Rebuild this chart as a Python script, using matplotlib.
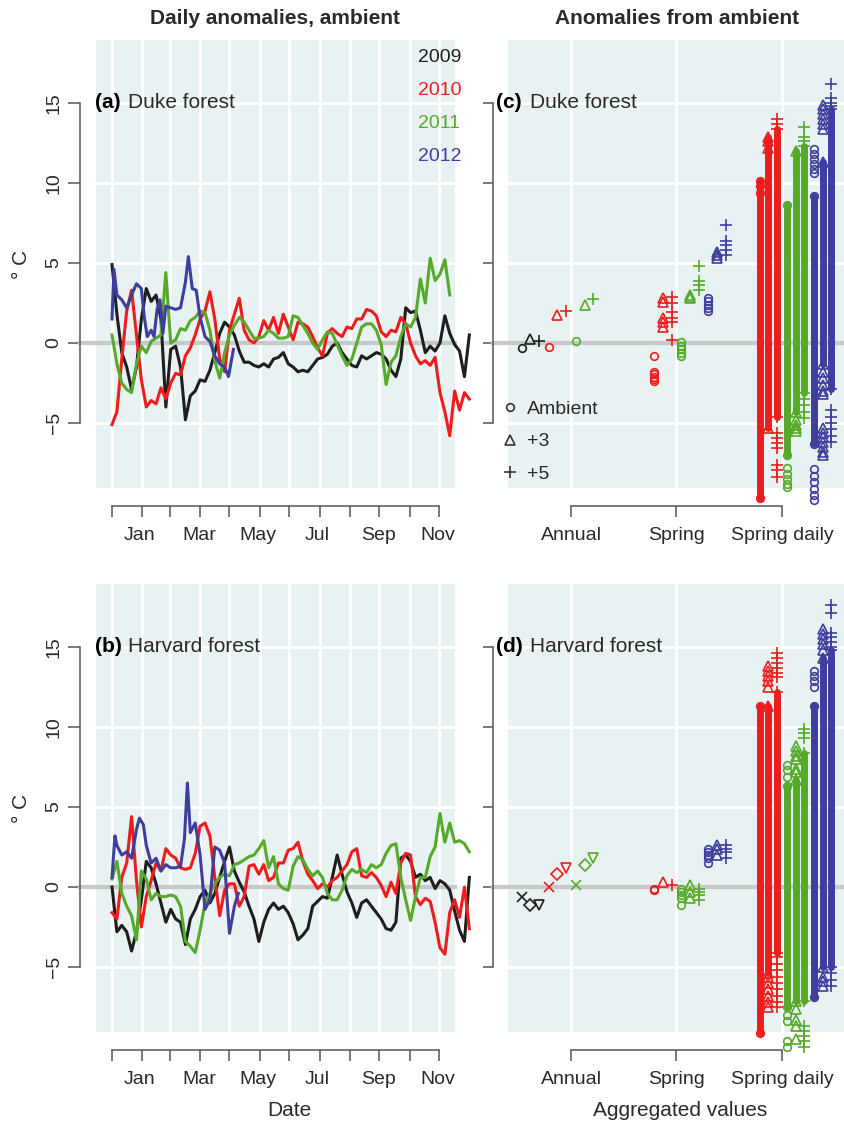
import matplotlib
matplotlib.use('Agg')
import matplotlib.pyplot as plt
from matplotlib.lines import Line2D
from matplotlib.patches import Rectangle

plt.rcParams['font.family'] = ['Liberation Sans', 'DejaVu Sans']

W, H = 845, 1123

# years and colours
years = ['2009', '2010', '2011', '2012']
year_cols = ['#1e1e1e', '#ee1d1d', '#55aa2a', '#3e3e9e']
bg_col = '#e8f2f2'
axis_col = '#555555'
text_col = '#2a2a2a'

# month ticks (day of year of each month start) and labels
month_starts = [0, 31, 59, 90, 120, 151, 181, 212, 243, 273, 304, 334]
month_labels = ['Jan', 'Mar', 'May', 'Jul', 'Sep', 'Nov']
month_label_days = [28, 89, 149, 210, 272, 333]

days_full = list(range(0, 366, 5))
days_2011_duke = list(range(0, 346, 5))

# ---- (a) Duke forest, daily anomalies (read every ~5 days)
duke_2009 = [4.9, 1.8, -0.6, -1.5, -2.9, -1.5, 1.5, 3.4, 2.6, 3.0, 1.5, -4.0, -0.4, -0.2, -1.5,
             -4.8, -3.3, -3.0, -2.3, -2.4, -1.7, -0.6, 0.6, 1.3, 1.0, 0.5, -0.5, -1.2, -1.2, -1.4,
             -1.5, -1.3, -1.5, -1.0, -0.9, -0.6, -1.3, -1.5, -1.8, -1.7, -1.8, -1.4, -1.0, -0.9, -0.7,
             -0.2, 0.0, -0.6, -1.0, -1.4, -1.5, -0.8, -1.0, -0.8, -0.6, -0.7, -1.0, -1.7, -2.1, -1.0,
             2.2, 1.9, 2.0, 0.8, -0.6, -0.2, -0.5, 0.0, 1.7, 0.6, -0.1, -0.5, -2.1, 0.5]
duke_2010 = [-5.1, -4.3, -1.0, 2.0, 3.3, 0.5, -2.3, -4.0, -3.6, -3.8, -2.8, -3.5, -2.5, -1.9, -2.0,
             -0.8, -0.3, 0.5, 1.5, 2.0, 3.2, 1.5, -1.0, -1.8, 0.8, 1.8, 2.8, 0.8, 0.2, 0.0,
             0.4, 1.4, 0.8, 1.6, 0.6, 1.8, 1.0, 0.2, 1.3, 1.2, 1.0, 0.4, -0.3, -0.8, 0.6,
             0.9, 0.6, 0.4, 1.0, 0.9, 1.5, 1.5, 2.1, 2.0, 1.7, 0.7, 0.4, 0.8, 0.7, 1.6,
             1.2, 0.0, -0.8, -1.3, -1.1, -1.4, -0.9, -3.1, -4.3, -5.8, -3.0, -4.2, -3.1, -3.5]
duke_2011 = [0.5, -1.3, -2.5, -2.9, -3.1, -1.3, -0.2, -0.6, 0.1, 0.3, 0.5, 4.4, 0.0, 0.2, 0.9,
             0.8, 1.4, 1.6, 2.0, 1.9, 0.8, -1.1, -2.2, -0.6, 0.5, 1.1, 1.6, 1.3, 0.8, 0.3,
             0.3, 0.4, 0.8, 0.6, 0.3, 0.3, 0.4, 1.7, 1.6, 1.1, 0.6, 0.0, -0.4, 0.2, 0.7,
             0.6, -0.1, -0.8, -1.4, -1.0, 0.0, 1.0, 1.2, 1.2, 0.8, -0.1, -2.6, -1.2, -0.8, 0.4,
             1.2, 1.0, 1.6, 4.0, 2.5, 5.3, 3.9, 4.3, 5.2, 3.0]
duke_2012_days = [0, 2, 5, 10, 15, 20, 25, 30, 33, 36, 40, 43, 46, 49, 52, 55, 60, 65, 70, 75,
                  78, 82, 86, 90, 95, 100, 105, 110, 115, 119, 124]
duke_2012 = [1.5, 4.6, 3.0, 2.7, 2.2, 3.0, 3.7, 3.4, 1.6, 0.4, 0.8, 0.4, 2.1, 2.7, 0.6, 2.3,
             2.2, 2.1, 2.2, 3.8, 5.4, 3.4, 3.3, 1.6, 0.4, 0.1, -0.8, -1.3, -1.5, -2.1, -0.4]

# ---- (b) Harvard forest, daily anomalies
harv_2009 = [0.0, -2.8, -2.4, -2.8, -4.0, -2.8, -0.8, 1.6, 1.2, 0.2, -1.0, -2.2, -1.4, -2.0, -2.2,
             -3.6, -2.0, -1.4, -0.6, -0.2, -1.0, -0.4, 0.6, 1.6, 2.5, 1.0, 0.3, -0.3, -1.2, -2.0,
             -3.4, -2.2, -1.4, -1.0, -1.4, -1.2, -1.6, -2.3, -3.3, -3.0, -2.6, -1.2, -0.9, -0.6, -0.7,
             0.6, 2.0, 0.8, -0.3, -1.0, -1.9, -1.0, -0.8, -1.2, -1.6, -2.0, -2.6, -2.7, -2.2, 1.8,
             2.0, 1.6, 0.6, 0.8, 0.4, 0.6, -0.1, 0.4, 0.2, -0.2, -1.5, -2.7, -3.4, 0.6]
harv_2010 = [-1.6, -2.0, 0.6, 1.5, 4.4, 0.4, -2.5, -0.6, 0.4, 1.5, 1.0, 2.4, 2.0, 1.8, 1.2,
             1.1, 1.2, 2.1, 3.8, 4.0, 3.2, 0.6, -1.8, -0.2, 0.2, 0.2, -1.2, -0.6, 1.3, 1.4,
             0.8, 1.4, 0.4, 0.6, 1.5, 1.5, 2.3, 2.4, 2.8, 1.6, 0.8, 0.4, -0.1, 0.2, 0.0,
             0.4, 0.6, 1.0, 1.4, 2.2, 2.4, 0.7, 0.6, 0.9, 0.6, 0.1, -0.6, 0.3, -0.4, 1.5,
             2.1, 2.0, -0.6, -1.1, -0.7, -0.9, -2.2, -3.8, -4.2, -1.6, -0.8, -1.9, 0.0, -2.6]
harv_2011 = [0.5, 1.6, -0.4, -1.2, -1.8, -3.3, 1.0, 0.5, -0.8, -0.4, -0.6, -0.6, -0.5, -0.6, -1.2,
             -3.4, -3.7, -4.1, -2.7, -1.0, -0.4, 0.2, 0.6, 0.8, 0.7, 1.4, 1.5, 1.7, 1.9, 2.0,
             2.4, 2.9, 1.2, 1.9, 0.2, -0.1, -0.2, 1.3, 1.9, 1.7, 1.1, 0.7, 1.0, 0.6, -0.4,
             -0.8, -0.8, -0.2, 0.7, 1.1, 0.9, 1.1, 0.9, 1.4, 1.2, 1.4, 2.1, 2.6, 2.7, 0.6,
             -0.8, -2.1, -0.6, 0.6, 0.6, 1.9, 2.5, 4.6, 2.8, 4.0, 2.8, 2.9, 2.7, 2.2]
harv_2012_days = [0, 3, 5, 10, 15, 20, 25, 28, 32, 35, 40, 45, 50, 55, 60, 65, 70, 74, 77, 80,
                  85, 90, 95, 100, 105, 110, 115, 120, 125, 129]
harv_2012 = [0.6, 3.2, 2.6, 2.0, 2.2, 1.8, 3.6, 4.3, 3.9, 2.6, 1.5, 1.8, 1.0, 1.4, 1.2,
             1.2, 1.3, 3.0, 6.5, 3.4, 4.0, 2.0, -1.4, -0.8, 2.5, 2.3, 1.5, -2.9, -1.2, -0.4]

# ---- aggregated values; rows = treatment (ambient, +3, +5)
duke_annual = {'2009': [[-0.3], [0.25], [0.15]],
               '2010': [[-0.25], [1.75], [2.0]],
               '2011': [[0.1], [2.4], [2.75]]}
duke_spring = {'2010': [[-0.8, -1.8, -1.95, -2.1, -2.25, -2.4], [2.8, 2.55, 1.55, 1.3, 1.0],
                        [2.9, 2.5, 1.95, 1.55, 1.3, 0.2]],
               '2011': [[0.05, -0.2, -0.4, -0.6, -0.8], [3.0, 2.9, 2.8], [4.8, 3.9, 3.6, 3.3]],
               '2012': [[2.8, 2.6, 2.4, 2.2, 2.0], [5.7, 5.5, 5.3], [7.4, 6.4, 6.1, 5.8, 5.5]]}
duke_daily_lo = {'2010': [-9.7, -5.3, -4.6], '2011': [-7.0, -4.3, -3.1], '2012': [-6.3, -1.3, -2.9]}
duke_daily_hi = {'2010': [10.1, 12.9, 13.4], '2011': [8.6, 12.0, 12.3], '2012': [9.2, 11.3, 14.6]}
duke_daily_extra = {
    '2010': [[9.8, 9.4], [12.6, 12.2],
             [14.0, 13.7, -5.65, -5.96, -6.27, -6.58, -7.63, -7.94, -8.35]],
    '2011': [[-7.8, -8.2, -8.5, -8.8, -9.0], [-4.8, -5.1, -5.3, -5.5],
             [13.5, 12.9, 12.6, -3.5, -3.9, -4.3, -4.7]],
    '2012': [[12.1, 11.8, 11.5, 11.2, 10.9, 10.6, -7.9, -8.3, -8.7, -9.1, -9.5, -9.8],
             [14.9, 14.6, 14.3, 14.0, 13.7, 13.4, -1.8, -2.2, -2.6, -3.0, -3.2,
              -5.3, -5.6, -5.9, -6.2, -6.5, -6.8, -7.0],
             [16.2, 15.3, 15.0, 14.8, -4.2, -4.6, -5.0, -5.4, -5.8, -6.2]]}

harv_annual = {'2009': [[-0.6], [-1.1], [-1.1]],
               '2010': [[0.0], [0.8], [1.2]],
               '2011': [[0.15], [1.35], [1.8]]}
harv_spring = {'2010': [[-0.1, -0.2], [0.3], [0.1]],
               '2011': [[-0.1, -0.3, -0.5, -0.7, -1.1], [0.1, -0.3, -0.7], [-0.1, -0.3, -0.5, -0.8]],
               '2012': [[2.4, 2.2, 2.0, 1.8, 1.5], [2.6, 2.4, 2.0], [2.6, 2.4, 2.2, 1.8]]}
harv_daily_lo = {'2010': [-9.1, -5.4, -4.1], '2011': [-7.5, -7.1, -7.1], '2012': [-6.9, -5.0, -5.0]}
harv_daily_hi = {'2010': [11.3, 11.3, 12.2], '2011': [6.3, 6.7, 8.4], '2012': [11.3, 14.3, 14.8]}
harv_daily_extra = {
    '2010': [[], [13.8, 13.5, 13.2, 12.9, 12.5, -5.6, -6.0, -6.4, -6.8, -7.2, -7.5],
             [14.6, 14.3, 14.0, 13.7, 13.4, 13.1, -4.4, -4.8, -5.2, -5.6, -6.0, -6.4, -6.8, -7.2, -7.5]],
    '2011': [[7.6, 7.3, 6.9, -8.0, -8.4, -9.6, -10.0], [8.8, 8.5, 8.2, 8.0, 7.4, 7.2, -7.6, -8.3, -8.7, -9.5],
             [9.9, 9.6, 9.3, -8.7, -9.0, -9.3, -9.6, -10.0]],
    '2012': [[13.5, 13.2, 12.9, 12.5], [16.1, 15.8, 15.5, 15.2, 14.8, -5.6, -5.9, -6.2],
             [17.6, 17.1, 15.9, 15.6, 15.3, 15.0, -5.4, -5.8, -6.2]]}

categories = ['Annual', 'Spring', 'Spring daily']
treat_labels = ['Ambient', '+3', '+5']

YLIM = (-9.0625, 18.9375)
DAY_PX = 0.979          # pixels per day in the line panels
YEAR_OFF, TRT_OFF = 0.256, 0.085


def px_axes(fig, x0, y0, x1, y1):
    return fig.add_axes([x0 / W, 1 - y1 / H, (x1 - x0) / W, (y1 - y0) / H])


def style_left(ax, outward, ticklen, labels):
    ax.spines['left'].set_position(('outward', outward))
    ax.spines['left'].set_bounds(-5, 15)
    ax.spines['left'].set_color(axis_col)
    ax.spines['left'].set_linewidth(1.1)
    for s in ['top', 'right']:
        ax.spines[s].set_visible(False)
    ax.set_yticks([-5, 0, 5, 10, 15])
    ax.tick_params(axis='y', direction='out', length=ticklen, width=1.1, color=axis_col,
                   labelsize=14, labelcolor=text_col, labelrotation=90, pad=4,
                   labelleft=labels)
    if labels:
        for t in ax.get_yticklabels():
            t.set_va('center')
    ax.set_ylim(*YLIM)


def line_panel(ax, series, title_lbl, site, legend=False):
    x0 = -16 / DAY_PX
    x1 = (475 - 112) / DAY_PX
    bg_r = (455 - 112) / DAY_PX
    ax.set_xlim(x0, x1)
    ax.set_facecolor('none')
    ax.add_patch(Rectangle((x0, YLIM[0]), bg_r - x0, YLIM[1] - YLIM[0], color=bg_col,
                           zorder=0, lw=0))
    frac = (bg_r - x0) / (x1 - x0)
    for m in month_starts:
        ax.axvline(m, color='white', lw=2.2, zorder=1)
    for y in [-5, 5, 10, 15]:
        ax.axhline(y, xmin=0, xmax=frac, color='white', lw=2.2, zorder=1)
    ax.axhline(0, xmin=-16 / 379, xmax=frac, color='#c8c8c8', lw=3, zorder=2, clip_on=False)

    handles = []
    for (d, v), col in zip(series, year_cols):
        h, = ax.plot(d, v, color=col, lw=2.2, zorder=3, solid_joinstyle='round')
        handles.append(h)

    style_left(ax, 11.5, 8.5, True)
    ax.spines['bottom'].set_position(('outward', 13))
    ax.spines['bottom'].set_bounds(month_starts[0], month_starts[-1])
    ax.spines['bottom'].set_color(axis_col)
    ax.spines['bottom'].set_linewidth(1.1)
    ax.set_xticks(month_starts)
    ax.set_xticklabels([])
    ax.set_xticks(month_label_days, minor=True)
    ax.set_xticklabels(month_labels, minor=True)
    ax.tick_params(axis='x', which='major', direction='out', length=8, width=1.1, color=axis_col)
    ax.tick_params(axis='x', which='minor', length=0, pad=15, labelsize=14, labelcolor=text_col)

    ax.text(-17 / DAY_PX, 15, title_lbl, fontsize=15, fontweight='bold', va='center',
            ha='left', color='black', zorder=5)
    ax.text(16 / DAY_PX, 15, site, fontsize=15, va='center', ha='left', color=text_col, zorder=5)

    if legend:
        leg = ax.legend(handles, years, loc='upper right',
                        bbox_to_anchor=((462 - 96) / 379, (488 - 48) / 448),
                        frameon=False, handlelength=0, handletextpad=0, borderpad=0,
                        borderaxespad=0, labelspacing=0.8, fontsize=14, labelcolor='linecolor')
        for h in leg.legend_handles:
            h.set_visible(False)


def xpos(cat, yi, ti):
    return cat + (yi - 1.5) * YEAR_OFF + (ti - 1) * TRT_OFF


def agg_panel(ax, annual, spring, d_lo, d_hi, d_extra, title_lbl, site, ann_markers, legend=False):
    x0 = 1 + (508 - 571) / 105.5
    x1 = 1 + (845 - 571) / 105.5
    ax.set_xlim(x0, x1)
    ax.set_facecolor(bg_col)
    for c in [1, 2, 3]:
        ax.axvline(c, color='white', lw=2.2, zorder=1)
    for y in [-5, 5, 10, 15]:
        ax.axhline(y, color='white', lw=2.2, zorder=1)
    ax.axhline(0, xmin=-15 / 337, xmax=1, color='#c8c8c8', lw=3, zorder=2, clip_on=False)

    markers = ['o', '^', '+']
    sizes = {'o': 5.5, '^': 7, '+': 8, 'x': 7, 'D': 6, 'v': 7}

    def pts(x, vals, m, col):
        ax.plot([x] * len(vals), vals, ls='', marker=m, ms=sizes[m], mfc='none', mec=col,
                mew=1.2, zorder=4, clip_on=False)

    for yr, rows in annual.items():
        yi = years.index(yr)
        for ti, vals in enumerate(rows):
            pts(xpos(1, yi, ti), vals, ann_markers[ti], year_cols[yi])
    for yr, rows in spring.items():
        yi = years.index(yr)
        for ti, vals in enumerate(rows):
            pts(xpos(2, yi, ti), vals, markers[ti], year_cols[yi])
    for yr in d_lo:
        yi = years.index(yr)
        for ti in range(3):
            x = xpos(3, yi, ti)
            ax.plot([x, x], [d_lo[yr][ti], d_hi[yr][ti]], color=year_cols[yi], lw=5,
                    solid_capstyle='round', zorder=3, clip_on=False)
            pts(x, [d_lo[yr][ti], d_hi[yr][ti]] + d_extra[yr][ti], markers[ti], year_cols[yi])

    style_left(ax, 10.8, 7.2, False)
    ax.spines['bottom'].set_position(('outward', 13))
    ax.spines['bottom'].set_bounds(1, 3)
    ax.spines['bottom'].set_color(axis_col)
    ax.spines['bottom'].set_linewidth(1.1)
    ax.set_xticks([1, 2, 3])
    ax.set_xticklabels(categories)
    ax.tick_params(axis='x', direction='out', length=8, width=1.1, color=axis_col, pad=7,
                   labelsize=14, labelcolor=text_col)

    ax.text(x0 - 12 / 105.5, 15, title_lbl, fontsize=15, fontweight='bold', va='center',
            ha='left', color='black', zorder=5)
    ax.text(x0 + 22 / 105.5, 15, site, fontsize=15, va='center', ha='left', color=text_col,
            zorder=5)

    if legend:
        hs = [Line2D([], [], ls='', marker=m, ms=sizes[m], mfc='none', mec='#333333', mew=1.2)
              for m in markers]
        ax.legend(hs, treat_labels, loc='upper left',
                  bbox_to_anchor=((500 - 508) / 337, (488 - 400) / 448), frameon=False,
                  handlelength=1.0, handletextpad=0.4, borderpad=0, borderaxespad=0,
                  labelspacing=0.78, fontsize=14, labelcolor=text_col)


fig = plt.figure(figsize=(W / 100, H / 100), dpi=100)

ax_a = px_axes(fig, 96, 40, 475, 488)
line_panel(ax_a, [(days_full, duke_2009), (days_full, duke_2010),
                  (days_2011_duke, duke_2011), (duke_2012_days, duke_2012)],
           '(a)', 'Duke forest', legend=True)

ax_b = px_axes(fig, 96, 584, 475, 1032)
line_panel(ax_b, [(days_full, harv_2009), (days_full, harv_2010),
                  (days_full, harv_2011), (harv_2012_days, harv_2012)],
           '(b)', 'Harvard forest')

ax_c = px_axes(fig, 508, 40, 845, 488)
agg_panel(ax_c, duke_annual, duke_spring, duke_daily_lo, duke_daily_hi, duke_daily_extra,
          '(c)', 'Duke forest', ['o', '^', '+'], legend=True)

ax_d = px_axes(fig, 508, 584, 845, 1032)
agg_panel(ax_d, harv_annual, harv_spring, harv_daily_lo, harv_daily_hi, harv_daily_extra,
          '(d)', 'Harvard forest', ['x', 'D', 'v'])

fig.text(275 / W, 1 - 18 / H, 'Daily anomalies, ambient', fontsize=15, fontweight='bold',
         ha='center', va='center', color=text_col)
fig.text(677 / W, 1 - 18 / H, 'Anomalies from ambient', fontsize=15, fontweight='bold',
         ha='center', va='center', color=text_col)
for yc in [264, 808]:
    fig.text(22 / W, 1 - yc / H, '° C', fontsize=15, rotation=90, ha='center', va='center',
             color=text_col)
fig.text(289 / W, 1 - 1111 / H, 'Date', fontsize=15, ha='center', va='center', color=text_col)
fig.text(680 / W, 1 - 1111 / H, 'Aggregated values', fontsize=15, ha='center', va='center',
         color=text_col)

fig.savefig('out.png', dpi=100)
